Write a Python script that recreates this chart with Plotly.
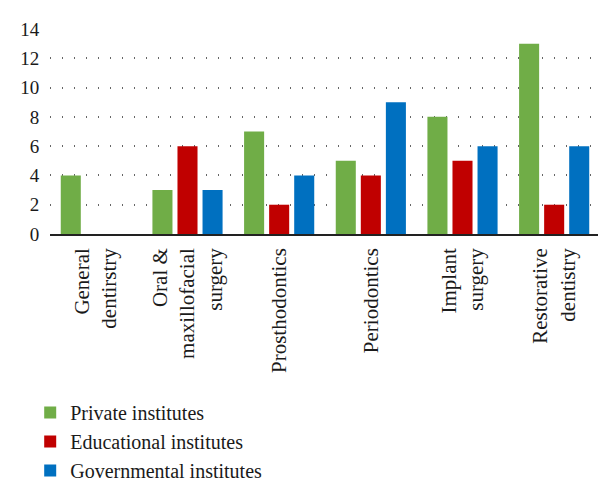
import plotly.graph_objects as go

categories = ["General<br>dentirstry", "Oral &<br>maxillofacial<br>surgery", "Prosthodontics",
              "Periodontics", "Implant<br>surgery", "Restorative<br>dentistry"]
private = [4, 3, 7, 5, 8, 13]
educational = [0, 6, 2, 4, 5, 2]
governmental = [0, 3, 4, 9, 6, 6]
series_names = ["Private institutes", "Educational institutes", "Governmental institutes"]
colors = ["#70AD47", "#C00000", "#0070C0"]

font_family = "Liberation Serif"
xpos = list(range(len(categories)))

fig = go.Figure()
for name, vals, col in zip(series_names, [private, educational, governmental], colors):
    fig.add_trace(go.Bar(x=xpos, y=vals, name=name, showlegend=False,
                         marker=dict(color=col, line=dict(width=0))))
# legend entries with larger square swatches
for name, col in zip(series_names, colors):
    fig.add_trace(go.Scatter(x=[None], y=[None], mode="markers", name=name,
                             marker=dict(symbol="square", size=16, color=col)))

fig.update_layout(
    width=606, height=493,
    margin=dict(l=42, r=14, t=21, b=257),
    paper_bgcolor="white", plot_bgcolor="white",
    barmode="group", bargap=0.18, bargroupgap=0.2,
    font=dict(family=font_family, size=21, color="#1a1a1a"),
    showlegend=True,
    legend=dict(orientation="v", x=-0.036, xanchor="left", y=-0.775, yanchor="top",
                font=dict(size=20), tracegroupgap=0, itemsizing="constant",
                bgcolor="rgba(0,0,0,0)"),
)
fig.update_xaxes(
    tickmode="array", tickvals=xpos, ticktext=categories,
    tickangle=-90, showgrid=False, showline=True, linecolor="#222", linewidth=1.5,
    ticks="outside", ticklen=4, tickcolor="rgba(0,0,0,0)",
    range=[-0.5, 5.5], zeroline=False, automargin=False,
    tickfont=dict(size=21),
)
fig.update_yaxes(
    range=[0, 14], dtick=2, tick0=0, showgrid=True, gridcolor="#666",
    griddash="1px,11px", gridwidth=1.5, zeroline=False, showline=False,
    ticks="outside", ticklen=6, tickcolor="rgba(0,0,0,0)",
    automargin=False, tickfont=dict(size=19),
)
fig.write_html("out.html")
